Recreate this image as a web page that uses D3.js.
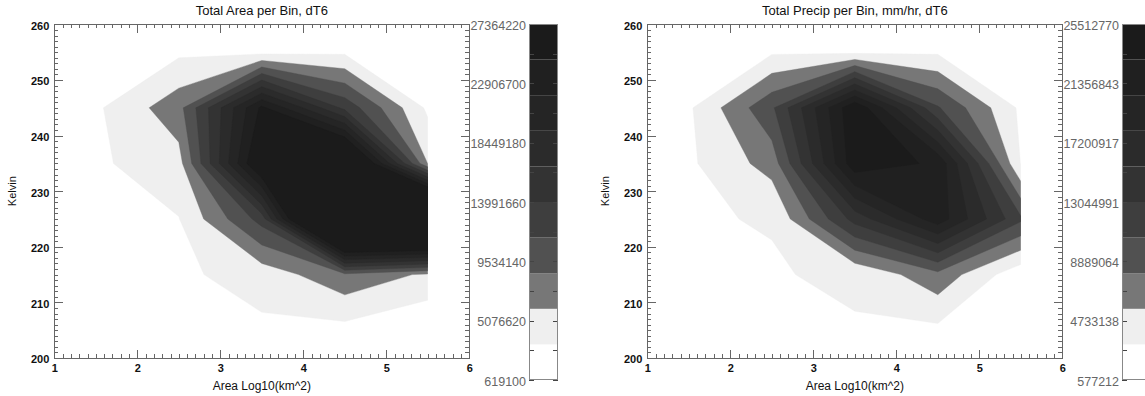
<!DOCTYPE html>
<html>
<head>
<meta charset="utf-8">
<script src="https://cdn.jsdelivr.net/npm/d3@7"></script>
<style>
  body { margin: 0; background: #fff; }
  svg { display: block; font-family: "Liberation Sans", Arial, sans-serif; }
</style>
</head>
<body>
<script>
// bin centres of the gridded data
const xBins = [1.5, 2.5, 3.5, 4.5, 5.5];        // Area Log10(km^2)
const yBins = [205, 215, 225, 235, 245, 255];   // Kelvin

// total area per bin, one row per yBins entry (bottom to top)
const areaGrid = [
  [620000, 700000, 2790000, 2420000, 700000],
  [650000, 2830000, 4360000, 8000000, 5500000],
  [1500000, 3220000, 12400000, 50000000, 50000000],
  [2860000, 4900000, 29000000, 35000000, 5900000],
  [2850000, 7700000, 25300000, 13200000, 2770000],
  [1000000, 2800000, 2600000, 2900000, 1000000]
];

// total precip per bin
const precipGrid = [
  [620000, 800000, 2900000, 2500000, 700000],
  [1200000, 2940000, 3400000, 7300000, 1300000],
  [2950000, 3150000, 14000000, 22000000, 11000000],
  [2640000, 6600000, 24800000, 22500000, 3000000],
  [2700000, 10100000, 25300000, 10800000, 2600000],
  [1000000, 2780000, 2600000, 2760000, 1000000]
];

const areaTicks = [619100, 5076620, 9534140, 13991660, 18449180, 22906700, 27364220];
const precipTicks = [577212, 4733138, 8889064, 13044991, 17200917, 21356843, 25512770];

const bandColors = ['#ffffff', '#efefef', '#777777', '#515151', '#3e3e3e',
                    '#333333', '#2b2b2b', '#252525', '#202020', '#1b1b1b'];

const xTicks = [1, 2, 3, 4, 5, 6];
const yTicks = [200, 210, 220, 230, 240, 250, 260];

const W = 1145, H = 396;
const frameTop = 24.4, frameBottom = 358;
const cbTop = 24, cbBottom = 380, cbW = 29;
const frameColor = '#666';

const svg = d3.select('body').append('svg')
  .attr('width', W).attr('height', H);

function styleAxis(sel) {
  sel.selectAll('path, line').attr('stroke', frameColor).attr('shape-rendering', 'crispEdges');
  sel.selectAll('text').attr('fill', '#111').attr('font-size', 11).attr('font-weight', 'bold')
    .attr('font-family', '"Liberation Sans", Arial, sans-serif');
}

function drawPanel(p) {
  const x = d3.scaleLinear().domain([1, 6]).range([p.x0, p.x1]);
  const y = d3.scaleLinear().domain([200, 260]).range([frameBottom, frameTop]);
  const g = svg.append('g');

  // filled contours
  const min = p.ticks[0], max = p.ticks[p.ticks.length - 1];
  const levels = d3.range(1, 10).map(k => min + k * (max - min) / 10);
  const nx = xBins.length, ny = yBins.length;
  const dxb = xBins[1] - xBins[0], dyb = yBins[1] - yBins[0];
  const contours = d3.contours().size([nx, ny]).thresholds(levels)(p.grid.flat());
  const proj = d3.geoTransform({
    point(gx, gy) {
      this.stream.point(x(xBins[0] + (gx - 0.5) * dxb), y(yBins[0] + (gy - 0.5) * dyb));
    }
  });
  const path = d3.geoPath(proj);

  const clipId = 'clip' + p.id;
  svg.append('clipPath').attr('id', clipId).append('rect')
    .attr('x', x(xBins[0])).attr('y', y(yBins[ny - 1]))
    .attr('width', x(xBins[nx - 1]) - x(xBins[0]))
    .attr('height', y(yBins[0]) - y(yBins[ny - 1]));

  g.append('g').attr('clip-path', `url(#${clipId})`)
    .selectAll('path').data(contours).join('path')
    .attr('d', path)
    .attr('fill', (d, i) => bandColors[i + 1])
    .attr('stroke', (d, i) => bandColors[i + 1])
    .attr('stroke-width', 0.4);

  // axes, IDL style box with inward ticks
  const minorX = d3.range(10, 61).map(v => v / 10);
  const minorY = d3.range(200, 261);
  const ax = [
    g.append('g').attr('transform', `translate(0,${frameBottom})`)
      .call(d3.axisBottom(x).tickValues(minorX).tickSize(-4).tickSizeOuter(0).tickFormat('')),
    g.append('g').attr('transform', `translate(0,${frameBottom})`)
      .call(d3.axisBottom(x).tickValues(xTicks).tickSize(-8.5).tickSizeOuter(0).tickPadding(6).tickFormat(d3.format('d'))),
    g.append('g').attr('transform', `translate(0,${frameTop})`)
      .call(d3.axisTop(x).tickValues(minorX).tickSize(-4).tickSizeOuter(0).tickFormat('')),
    g.append('g').attr('transform', `translate(0,${frameTop})`)
      .call(d3.axisTop(x).tickValues(xTicks).tickSize(-8.5).tickSizeOuter(0).tickFormat('')),
    g.append('g').attr('transform', `translate(${p.x0},0)`)
      .call(d3.axisLeft(y).tickValues(minorY).tickSize(-4).tickSizeOuter(0).tickFormat('')),
    g.append('g').attr('transform', `translate(${p.x0},0)`)
      .call(d3.axisLeft(y).tickValues(yTicks).tickSize(-8.5).tickSizeOuter(0).tickPadding(5).tickFormat(d3.format('d'))),
    g.append('g').attr('transform', `translate(${p.x1},0)`)
      .call(d3.axisRight(y).tickValues(minorY).tickSize(-4).tickSizeOuter(0).tickFormat('')),
    g.append('g').attr('transform', `translate(${p.x1},0)`)
      .call(d3.axisRight(y).tickValues(yTicks).tickSize(-8.5).tickSizeOuter(0).tickFormat(''))
  ];
  ax.forEach(styleAxis);
  ax[5].selectAll('text').attr('dy', '0.45em');

  // titles
  g.append('text').attr('x', (p.x0 + p.x1) / 2).attr('y', 15)
    .attr('text-anchor', 'middle').attr('font-size', 13).attr('fill', '#111')
    .text(p.title);
  g.append('text').attr('x', (p.x0 + p.x1) / 2).attr('y', 390)
    .attr('text-anchor', 'middle').attr('font-size', 12).attr('fill', '#111')
    .text('Area Log10(km^2)');
  g.append('text')
    .attr('transform', `translate(${p.x0 - 38},${(frameTop + frameBottom) / 2}) rotate(-90)`)
    .attr('text-anchor', 'middle').attr('font-size', 11).attr('fill', '#111')
    .text('Kelvin');

  // colour bar
  const cb = svg.append('g');
  const bandY = d3.scaleLinear().domain([0, bandColors.length]).range([cbBottom, cbTop]);
  cb.selectAll('rect.band').data(bandColors).join('rect')
    .attr('class', 'band')
    .attr('x', p.cbX).attr('width', cbW)
    .attr('y', (d, i) => bandY(i + 1))
    .attr('height', (d, i) => bandY(i) - bandY(i + 1))
    .attr('fill', d => d);

  const cbScale = d3.scaleLinear().domain([min, max]).range([cbBottom, cbTop]);
  const minorCb = d3.range(0, p.ticks.length - 1).map(i => (p.ticks[i] + p.ticks[i + 1]) / 2);
  const cbAxes = [
    cb.append('g').attr('transform', `translate(${p.cbX},0)`)
      .call(d3.axisLeft(cbScale).tickValues(p.ticks).tickSize(-5).tickSizeOuter(0).tickPadding(3).tickFormat(d3.format('d'))),
    cb.append('g').attr('transform', `translate(${p.cbX},0)`)
      .call(d3.axisLeft(cbScale).tickValues(minorCb).tickSize(-5).tickSizeOuter(0).tickFormat('')),
    cb.append('g').attr('transform', `translate(${p.cbX + cbW},0)`)
      .call(d3.axisRight(cbScale).tickValues(p.ticks.concat(minorCb)).tickSize(-5).tickSizeOuter(0).tickFormat(''))
  ];
  cbAxes.forEach(a => {
    a.select('.domain').remove();
    a.selectAll('line').attr('stroke', '#444').attr('shape-rendering', 'crispEdges');
    a.selectAll('text').attr('fill', '#666').attr('font-size', 12.5)
      .attr('font-family', '"Liberation Sans", Arial, sans-serif').attr('dy', '0.4em');
  });
  cb.append('rect')
    .attr('x', p.cbX + 0.5).attr('y', cbTop + 0.5)
    .attr('width', cbW - 1).attr('height', cbBottom - cbTop - 1)
    .attr('fill', 'none').attr('stroke', '#888');
}

drawPanel({ id: 'a', x0: 54.3, x1: 469.3, cbX: 529, grid: areaGrid, ticks: areaTicks,
            title: 'Total Area per Bin, dT6' });
drawPanel({ id: 'p', x0: 647.3, x1: 1062.3, cbX: 1122, grid: precipGrid, ticks: precipTicks,
            title: 'Total Precip per Bin, mm/hr, dT6' });
</script>
</body>
</html>
